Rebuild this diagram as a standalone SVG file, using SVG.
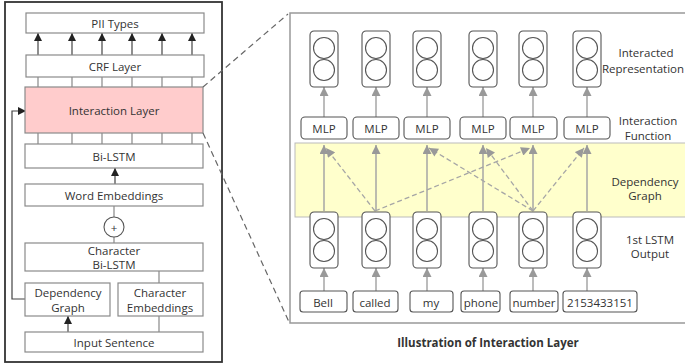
<svg xmlns="http://www.w3.org/2000/svg" width="685" height="364" viewBox="0 0 685 364">
<style>
text{font-family:"Open Sans","Noto Sans","DejaVu Sans",sans-serif;font-size:11.5px;fill:#333;text-anchor:middle;dominant-baseline:central}
.lbox{fill:#fff;stroke:#8a8a8a;stroke-width:1.2}
.pink{fill:#ffcccc;stroke:#8a8a8a;stroke-width:1.2}
.bl{stroke:#444;stroke-width:1.2;fill:none}
.g{stroke:#a6a6a6;stroke-width:1.5;fill:none}
.gd{stroke:#a6a6a6;stroke-width:1.3;fill:none;stroke-dasharray:5 3}
.unit{fill:#fff;stroke:#555;stroke-width:1.1}
.circ{fill:#fff;stroke:#555;stroke-width:1.1}
.rbox{fill:#fff;stroke:#555;stroke-width:1.1}
</style>
<defs>
<marker id="ab" viewBox="0 0 10 10" refX="10" refY="5" markerWidth="8" markerHeight="8" markerUnits="userSpaceOnUse" orient="auto"><path d="M0,0 L10,5 L0,10 z" fill="#222"/></marker>
<marker id="ag" viewBox="0 0 10 10" refX="10" refY="5" markerWidth="10" markerHeight="9" markerUnits="userSpaceOnUse" orient="auto"><path d="M0,0 L10,5 L0,10 z" fill="#999"/></marker>
<g id="neuron"><rect class="unit" x="-14" y="0" width="28" height="56" rx="4"/><circle class="circ" cx="0" cy="17" r="10.5"/><circle class="circ" cx="0" cy="39" r="10.5"/></g>
</defs>

<!-- Left panel -->
<rect x="5" y="2" width="217" height="360" fill="#fff" stroke="#333" stroke-width="1.8"/>

<g id="connectors-left">
<g class="bl">
<line x1="38" y1="55" x2="38" y2="33" marker-end="url(#ab)"/>
<line x1="72" y1="55" x2="72" y2="33" marker-end="url(#ab)"/>
<line x1="102" y1="55" x2="102" y2="33" marker-end="url(#ab)"/>
<line x1="132" y1="55" x2="132" y2="33" marker-end="url(#ab)"/>
<line x1="162" y1="55" x2="162" y2="33" marker-end="url(#ab)"/>
<line x1="192" y1="55" x2="192" y2="33" marker-end="url(#ab)"/>
</g>
<g stroke="#888" stroke-width="1.2">
<line x1="38" y1="77" x2="38" y2="87"/><line x1="72" y1="77" x2="72" y2="87"/><line x1="102" y1="77" x2="102" y2="87"/><line x1="132" y1="77" x2="132" y2="87"/><line x1="162" y1="77" x2="162" y2="87"/><line x1="192" y1="77" x2="192" y2="87"/>
<line x1="38" y1="133" x2="38" y2="144"/><line x1="72" y1="133" x2="72" y2="144"/><line x1="102" y1="133" x2="102" y2="144"/><line x1="132" y1="133" x2="132" y2="144"/><line x1="162" y1="133" x2="162" y2="144"/><line x1="192" y1="133" x2="192" y2="144"/>
<line x1="114" y1="206" x2="114" y2="217"/>
<line x1="114" y1="237" x2="114" y2="243"/>
<line x1="159" y1="271" x2="159" y2="283"/>
<line x1="159" y1="316" x2="159" y2="332"/>
</g>
<line class="bl" x1="115" y1="184" x2="115" y2="168" marker-end="url(#ab)"/>
<line class="bl" x1="68" y1="332" x2="68" y2="316" marker-end="url(#ab)"/>
<polyline class="bl" points="26,299 12,299 12,111 26,111" marker-end="url(#ab)"/>
</g>

<g id="pii"><rect class="lbox" x="26" y="13" width="178" height="20"/><text x="115" y="23">PII Types</text></g>
<g id="crf"><rect class="lbox" x="26" y="55" width="178" height="22"/><text x="115" y="66">CRF Layer</text></g>
<g id="interaction"><rect class="pink" x="25" y="87" width="178" height="46"/><text x="114" y="110">Interaction Layer</text></g>
<g id="bilstm"><rect class="lbox" x="25" y="144" width="178" height="24"/><text x="114" y="156">Bi-LSTM</text></g>
<g id="wordemb"><rect class="lbox" x="25" y="184" width="178" height="22"/><text x="114" y="195">Word Embeddings</text></g>
<g id="plus"><circle cx="114" cy="227" r="10" fill="#fff" stroke="#555" stroke-width="1.1"/><text x="114" y="227" font-size="14">+</text></g>
<g id="charbilstm"><rect class="lbox" x="25" y="243" width="178" height="28"/><text x="114" y="250" font-size="11">Character</text><text x="114" y="264" font-size="11">Bi-LSTM</text></g>
<g id="depgraph"><rect class="lbox" x="25" y="283" width="85" height="33"/><text x="68" y="292.5">Dependency</text><text x="68" y="307">Graph</text></g>
<g id="charemb"><rect class="lbox" x="118" y="283" width="85" height="33"/><text x="160" y="292.5">Character</text><text x="160" y="307">Embeddings</text></g>
<g id="input"><rect class="lbox" x="25" y="332" width="178" height="20"/><text x="114" y="342">Input Sentence</text></g>

<!-- zoom dashed lines -->
<g id="zoom-lines" stroke="#666" stroke-width="1.2" stroke-dasharray="6 4">
<line x1="203" y1="87" x2="288" y2="14"/>
<line x1="203" y1="133" x2="289" y2="322"/>
</g>

<!-- Right panel -->
<rect x="290" y="13" width="420" height="310" fill="#fff" stroke="#999" stroke-width="1.5"/>
<rect x="295" y="143" width="400" height="74" fill="#ffffcc" stroke="#bbb" stroke-width="1"/>

<g id="connectors-right">
<g class="g">
<line x1="324" y1="117" x2="324" y2="87" marker-end="url(#ag)"/>
<line x1="376" y1="117" x2="376" y2="87" marker-end="url(#ag)"/>
<line x1="427" y1="117" x2="427" y2="87" marker-end="url(#ag)"/>
<line x1="483" y1="117" x2="483" y2="87" marker-end="url(#ag)"/>
<line x1="533" y1="117" x2="533" y2="87" marker-end="url(#ag)"/>
<line x1="587" y1="117" x2="587" y2="87" marker-end="url(#ag)"/>
<line x1="324" y1="211" x2="324" y2="145" marker-end="url(#ag)"/>
<line x1="376" y1="211" x2="376" y2="145" marker-end="url(#ag)"/>
<line x1="427" y1="211" x2="427" y2="145" marker-end="url(#ag)"/>
<line x1="483" y1="211" x2="483" y2="145" marker-end="url(#ag)"/>
<line x1="533" y1="211" x2="533" y2="145" marker-end="url(#ag)"/>
<line x1="587" y1="211" x2="587" y2="145" marker-end="url(#ag)"/>
<line x1="324" y1="291" x2="324" y2="268" marker-end="url(#ag)"/>
<line x1="376" y1="291" x2="376" y2="268" marker-end="url(#ag)"/>
<line x1="427" y1="291" x2="427" y2="268" marker-end="url(#ag)"/>
<line x1="483" y1="291" x2="483" y2="268" marker-end="url(#ag)"/>
<line x1="533" y1="291" x2="533" y2="268" marker-end="url(#ag)"/>
<line x1="587" y1="291" x2="587" y2="268" marker-end="url(#ag)"/>
</g>
<g class="gd">
<line x1="375" y1="211" x2="326" y2="148" marker-end="url(#ag)"/>
<line x1="375" y1="211" x2="530" y2="148" marker-end="url(#ag)"/>
<line x1="533" y1="211" x2="429" y2="148" marker-end="url(#ag)"/>
<line x1="533" y1="211" x2="486" y2="148" marker-end="url(#ag)"/>
<line x1="533" y1="211" x2="584" y2="148" marker-end="url(#ag)"/>
</g>
</g>

<g id="top-units">
<use href="#neuron" x="324" y="31"/><use href="#neuron" x="376" y="31"/><use href="#neuron" x="427" y="31"/><use href="#neuron" x="483" y="31"/><use href="#neuron" x="533" y="31"/><use href="#neuron" x="587" y="31"/>
</g>
<g id="mlps">
<g id="mlp1"><rect class="rbox" x="301" y="117" width="46" height="22" rx="4"/><text x="324" y="128">MLP</text></g>
<g id="mlp2"><rect class="rbox" x="353" y="117" width="46" height="22" rx="4"/><text x="376" y="128">MLP</text></g>
<g id="mlp3"><rect class="rbox" x="404" y="117" width="46" height="22" rx="4"/><text x="427" y="128">MLP</text></g>
<g id="mlp4"><rect class="rbox" x="460" y="117" width="46" height="22" rx="4"/><text x="483" y="128">MLP</text></g>
<g id="mlp5"><rect class="rbox" x="510" y="117" width="47" height="22" rx="4"/><text x="533" y="128">MLP</text></g>
<g id="mlp6"><rect class="rbox" x="564" y="117" width="46" height="22" rx="4"/><text x="587" y="128">MLP</text></g>
</g>
<g id="bottom-units">
<use href="#neuron" x="324" y="212"/><use href="#neuron" x="376" y="212"/><use href="#neuron" x="427" y="212"/><use href="#neuron" x="483" y="212"/><use href="#neuron" x="533" y="212"/><use href="#neuron" x="587" y="212"/>
</g>
<g id="words">
<g id="w1"><rect class="rbox" x="300" y="291" width="47" height="21" rx="3"/><text x="323" y="302">Bell</text></g>
<g id="w2"><rect class="rbox" x="353" y="291" width="45" height="21" rx="3"/><text x="375" y="302">called</text></g>
<g id="w3"><rect class="rbox" x="410" y="291" width="43" height="21" rx="3"/><text x="431" y="302">my</text></g>
<g id="w4"><rect class="rbox" x="461" y="291" width="39" height="21" rx="3"/><text x="481" y="302">phone</text></g>
<g id="w5"><rect class="rbox" x="510" y="291" width="48" height="21" rx="3"/><text x="534" y="302">number</text></g>
<g id="w6"><rect class="rbox" x="563" y="291" width="74" height="21" rx="3"/><text x="600" y="302">2153433151</text></g>
</g>

<g id="labels">
<text x="646" y="52">Interacted</text><text x="643" y="68" font-size="11">Representation</text>
<text x="648" y="120">Interaction</text><text x="648" y="135">Function</text>
<text x="645" y="181">Dependency</text><text x="645" y="195">Graph</text>
<text x="650" y="239">1st LSTM</text><text x="650" y="253">Output</text>
</g>
<text x="488" y="342" font-size="14" font-weight="bold" fill="#222">Illustration of Interaction Layer</text>
</svg>
